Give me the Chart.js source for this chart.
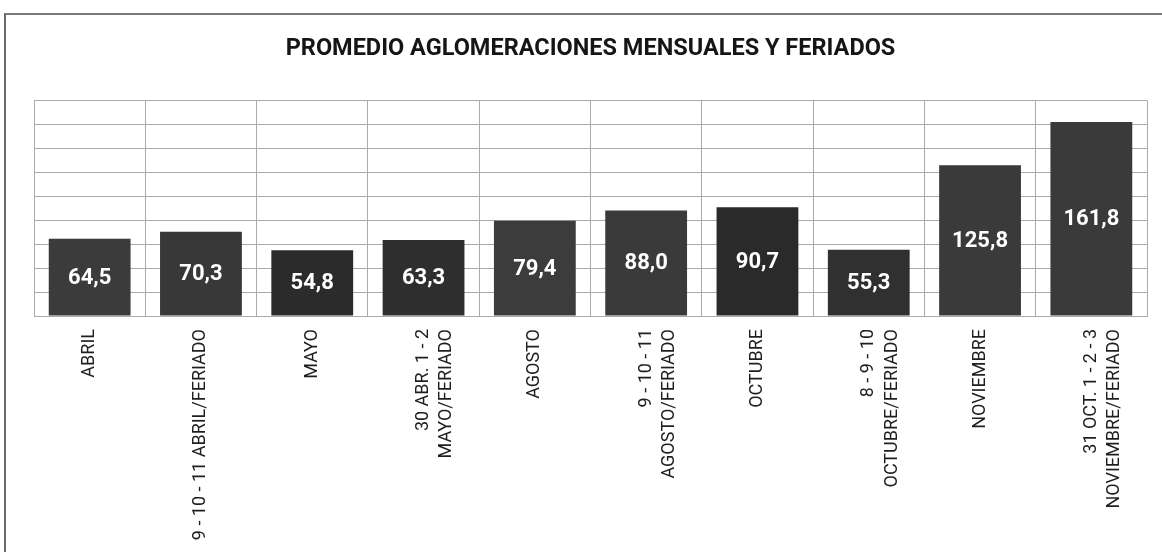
<!DOCTYPE html>
<html>
<head>
<meta charset="utf-8">
<script src="https://cdn.jsdelivr.net/npm/chart.js@4/dist/chart.umd.min.js"></script>
<style>
    html, body { margin: 0; padding: 0; background: #fff; }
    #wrap { position: relative; width: 1162px; height: 552px; overflow: hidden; }
    #frame {
        position: absolute; left: 4px; top: 13px; width: 1300px; height: 700px;
        border-left: 2px solid #6a6a6a; border-top: 2px solid #7a7a7a;
    }
    #chart { position: absolute; left: 0; top: 0; }
</style>
</head>
<body>
<div id="wrap">
    <div id="frame"></div>
    <canvas id="chart" width="1162" height="552"></canvas>
</div>
<script>
const TITLE = 'PROMEDIO AGLOMERACIONES MENSUALES Y FERIADOS';

const categories = [
    'ABRIL',
    '9 - 10 - 11 ABRIL/FERIADO',
    'MAYO',
    ['30 ABR. 1 - 2', 'MAYO/FERIADO'],
    'AGOSTO',
    ['9 - 10 - 11', 'AGOSTO/FERIADO'],
    'OCTUBRE',
    ['8 - 9 - 10', 'OCTUBRE/FERIADO'],
    'NOVIEMBRE',
    ['31 OCT. 1 - 2 - 3', 'NOVIEMBRE/FERIADO']
];

const promedio = [64.5, 70.3, 54.8, 63.3, 79.4, 88.0, 90.7, 55.3, 125.8, 161.8];

const barColors = ['#3b3b3b', '#383838', '#2b2b2b', '#2e2e2e', '#3c3c3c',
                   '#3a3a3a', '#2a2a2a', '#303030', '#3a3a3a', '#3a3a3a'];

const Y_MAX = 180;
const Y_STEP = 20;

const FONT = "'Roboto', 'Liberation Sans', sans-serif";

// white value labels in the middle of each bar, written "64,5"
const barValueLabels = {
    id: 'barValueLabels',
    afterDatasetsDraw(chart) {
        const ctx = chart.ctx;
        const meta = chart.getDatasetMeta(0);
        ctx.save();
        ctx.fillStyle = '#ffffff';
        ctx.font = 'bold 22px ' + FONT;
        ctx.textAlign = 'center';
        ctx.textBaseline = 'middle';
        meta.data.forEach((bar, i) => {
            const text = promedio[i].toFixed(1).replace('.', ',');
            ctx.fillText(text, bar.x, (bar.y + bar.base) / 2 + 1);
        });
        ctx.restore();
    }
};

new Chart(document.getElementById('chart'), {
    type: 'bar',
    data: {
        labels: categories,
        datasets: [{
            data: promedio,
            backgroundColor: barColors,
            borderWidth: 0,
            categoryPercentage: 1,
            barPercentage: 0.735
        }]
    },
    options: {
        responsive: false,
        animation: false,
        layout: { padding: { left: 34, right: 15, top: 0, bottom: 0 } },
        plugins: {
            legend: { display: false },
            tooltip: { enabled: false },
            title: {
                display: true,
                text: TITLE,
                color: '#151515',
                font: { family: FONT, size: 23.5, weight: 'bold', lineHeight: 1.2 },
                padding: { top: 35, bottom: 37 }
            }
        },
        scales: {
            x: {
                grid: { color: '#aaaaaa', lineWidth: 1, drawTicks: false, offset: true },
                border: { color: '#aaaaaa' },
                ticks: {
                    color: '#1e1e1e',
                    font: { family: FONT, size: 18, lineHeight: 1.3 },
                    minRotation: 90,
                    maxRotation: 90,
                    autoSkip: false,
                    padding: 13
                },
                afterFit(scale) { scale.height = 236; }
            },
            y: {
                min: 0,
                max: Y_MAX,
                grid: { color: '#aaaaaa', lineWidth: 1, drawTicks: false },
                border: { color: '#aaaaaa' },
                ticks: { display: false, stepSize: Y_STEP }
            }
        }
    },
    plugins: [barValueLabels]
});
</script>
</body>
</html>
